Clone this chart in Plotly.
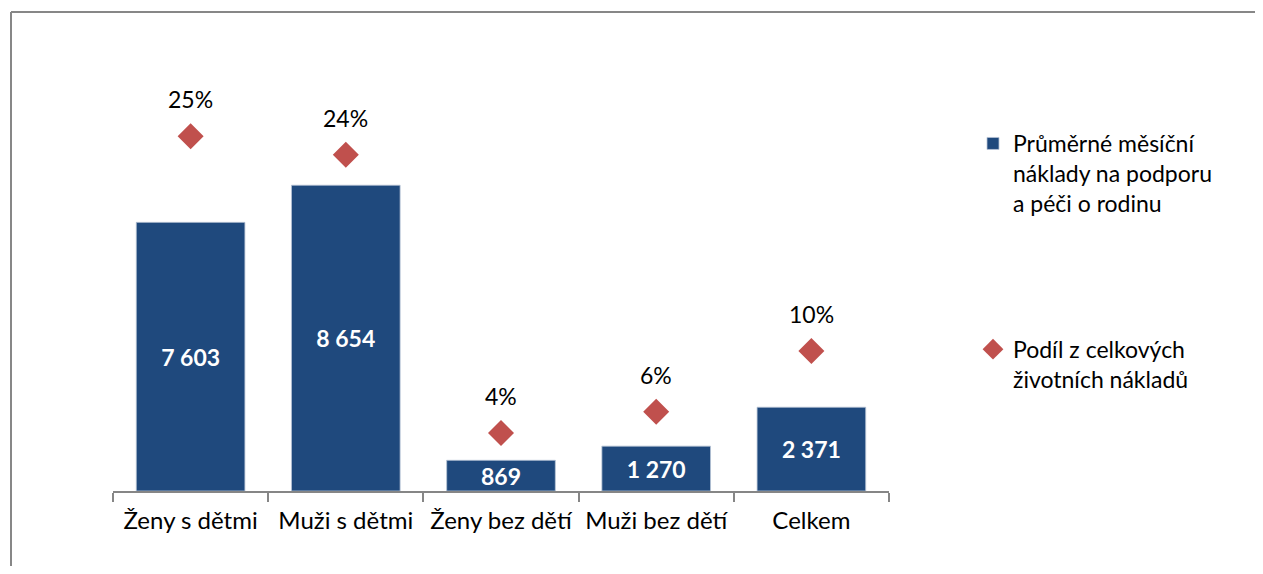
import plotly.graph_objects as go

categories = ["Ženy s dětmi", "Muži s dětmi", "Ženy bez dětí", "Muži bez dětí", "Celkem"]
costs = [7603, 8654, 869, 1270, 2371]
shares = [0.251, 0.238, 0.041, 0.056, 0.099]
bar_name = "Průměrné měsíční<br>náklady na podporu<br>a péči o rodinu"
share_name = "Podíl z celkových<br>životních nákladů"

FONT = "Lato, Carlito, Calibri, sans-serif"
W, H = 1255, 558
ML, MR, MT, MB = 105, 374, 59, 75
PW = W - ML - MR
PH = H - MT - MB

fig = go.Figure()
fig.add_trace(go.Bar(
    x=categories, y=costs, name=bar_name, legendgroup="a",
    marker=dict(color="#1f497d", line=dict(color="#b8c4d6", width=0.8)),
    width=0.7,
    text=[f"{v:,}".replace(",", " ") for v in costs],
    textposition="inside", insidetextanchor="middle",
    textfont=dict(family=FONT, size=23, color="white", weight="bold"),
    hoverinfo="skip",
))
fig.add_trace(go.Scatter(
    x=categories, y=shares, name=share_name, legendgroup="b", yaxis="y2",
    mode="markers",
    marker=dict(symbol="diamond", size=20, color="#c0504d"),
    hoverinfo="skip",
))
for c, s in zip(categories, shares):
    fig.add_annotation(x=c, y=s, yref="y2", text=f"{s:.0%}", showarrow=False,
                       yshift=37, yanchor="middle",
                       font=dict(family=FONT, size=23, color="#000000"))

def px2paper_x(px):
    return (px - 8 - ML) / PW

def px2paper_y(py):
    return (H - MB - (py - 8)) / PH

fx = px2paper_x(11)
fy = px2paper_y(12)
fx_end = px2paper_x(8 + W)
fy_end = px2paper_y(8 + H)
fig.add_shape(type="line", xref="paper", yref="paper", x0=fx, x1=fx, y0=fy, y1=fy_end,
              line=dict(color="#878787", width=2))
fig.add_shape(type="line", xref="paper", yref="paper", x0=fx, x1=fx_end, y0=fy, y1=fy,
              line=dict(color="#878787", width=2))

fig.update_layout(
    width=W, height=H,
    margin=dict(l=ML, r=MR, t=MT, b=MB, pad=0),
    paper_bgcolor="white", plot_bgcolor="white",
    font=dict(family=FONT, size=23, color="#000000"),
    bargap=0.3,
    uniformtext=dict(minsize=23, mode="show"),
    xaxis=dict(showline=True, linecolor="#868686", linewidth=1.5,
               ticks="outside", tickson="boundaries", ticklen=9, tickcolor="#868686",
               tickwidth=1.5, ticklabelstandoff=7,
               tickfont=dict(family=FONT, size=24, color="#000000"),
               showgrid=False, fixedrange=True),
    yaxis=dict(range=[0, 12000], tick0=0, dtick=12000, showgrid=True,
               gridcolor="#d9d9d9", gridwidth=1.5, zeroline=False,
               showticklabels=False, ticks="", showline=False),
    yaxis2=dict(range=[0, 0.30], overlaying="y", side="right", showgrid=False,
                zeroline=False, showticklabels=False, ticks="", showline=False),
    showlegend=True,
    legend=dict(x=px2paper_x(973), y=px2paper_y(122), xanchor="left", yanchor="top",
                valign="top", tracegroupgap=113,
                font=dict(family=FONT, size=23, color="#000000"),
                bgcolor="rgba(0,0,0,0)"),
)

fig.write_html("out.html", config={"displayModeBar": False})
